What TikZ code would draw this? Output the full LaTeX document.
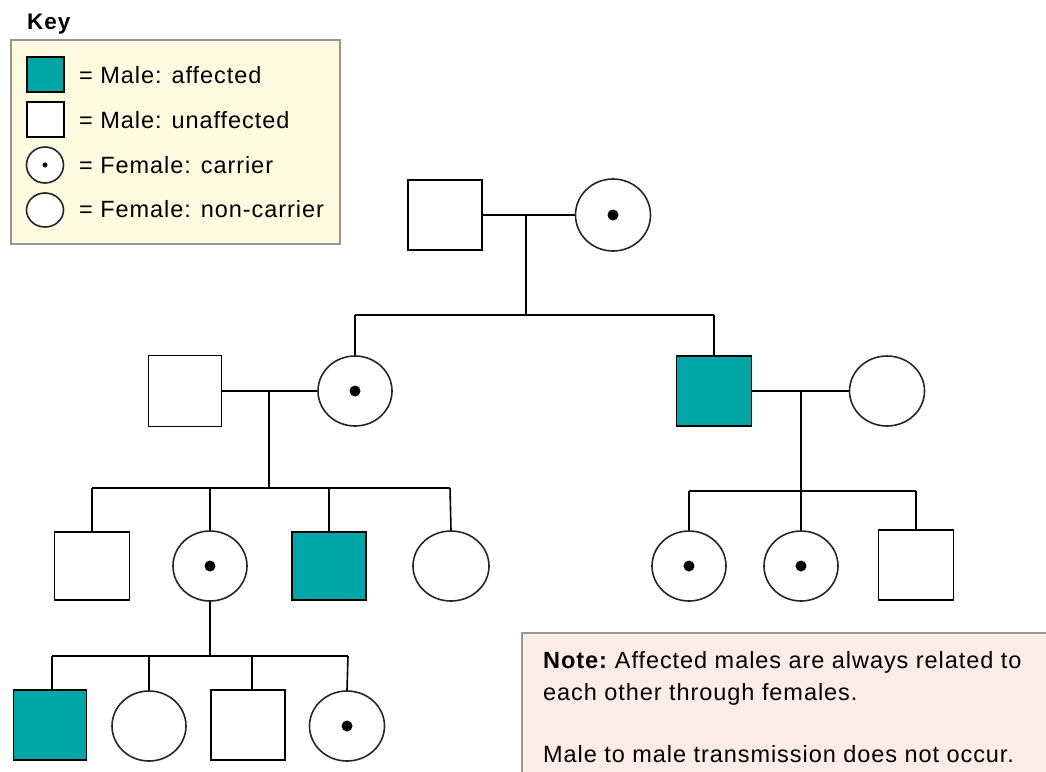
\documentclass[tikz,border=0pt]{standalone}
\usepackage{fontspec}
\setmainfont{Liberation Sans}[LetterSpace=4]
\usetikzlibrary{shapes.geometric}
\definecolor{tealA}{RGB}{0,165,165}
\definecolor{keybg}{RGB}{252,250,223}
\definecolor{notebg}{RGB}{251,236,232}
\definecolor{boxline}{RGB}{150,150,150}
\begin{document}
\begin{tikzpicture}[x=1pt,y=-1pt,
  male/.style={rectangle,draw=black,line width=1.6pt,fill=white,minimum width=74pt,minimum height=70pt,inner sep=0pt},
  affected/.style={male,fill=tealA},
  female/.style={ellipse,draw=black!85,line width=1.6pt,fill=white,minimum width=74pt,minimum height=70pt,inner sep=0pt},
  carrier/.style={female,path picture={\fill[black] (path picture bounding box.center) circle (5.5pt);}},
  conn/.style={draw=black,line width=1.6pt},
  txt/.style={anchor=base west,inner sep=0pt,font=\fontsize{23.5}{28}\selectfont},
  boxframe/.style={draw=boxline,line width=1.2pt}]
\useasboundingbox (0,0) rectangle (1046,771);
\fill[white] (0,0) rectangle (1046,771);
% Key
\node[anchor=base west,inner sep=0pt,font=\fontsize{22.5}{24}\selectfont\bfseries] (keytitle) at (27,29) {Key};
\draw[boxframe,fill=keybg] (11,40) rectangle (340,244);
\node[affected,minimum width=37pt,minimum height=35pt] (k1) at (45.5,74.5) {};
\node[male,minimum width=37pt,minimum height=35pt] (k2) at (45.5,119.5) {};
\node[carrier,minimum width=37pt,minimum height=36pt,path picture={\fill[black] (path picture bounding box.center) circle (2.5pt);}] (k3) at (45,165) {};
\node[female,minimum width=37pt,minimum height=34pt] (k4) at (45,210) {};
\node[txt] (t1) at (79,83) {= Male: affected};
\node[txt] (t2) at (79,128) {= Male: unaffected};
\node[txt] (t3) at (79,173) {= Female: carrier};
\node[txt] (t4) at (79,217) {= Female: non-carrier};
% Generation I
\node[male] (m1) at (445,215) {};
\node[carrier,minimum width=75pt,minimum height=72pt] (f1) at (613,215) {};
\coordinate (j1) at (526,215);
\coordinate (s1) at (526,315);
\coordinate (s1l) at (355,315);
\coordinate (s1r) at (714,315);
\draw[conn] (m1.east) -- (f1.west);
\draw[conn] (j1) -- (s1);
\draw[conn] (s1l) -- (s1r);
% Generation II
\node[male,minimum width=73pt,minimum height=71pt] (m2) at (185,391) {};
\node[carrier] (f2) at (355,391) {};
\node[affected,minimum width=75pt] (m3) at (714,391) {};
\node[female,minimum width=75pt] (f3) at (887,391) {};
\draw[conn] (s1l) -- (f2.north);
\draw[conn] (s1r) -- (m3.north);
\coordinate (j2) at (269,391);
\coordinate (s2) at (269,488);
\coordinate (s2l) at (92,488);
\coordinate (s2r) at (450,488);
\draw[conn] (m2.east) -- (f2.west);
\draw[conn] (j2) -- (s2);
\draw[conn] (s2l) -- (s2r);
\coordinate (j3) at (801,391);
\coordinate (s3) at (801,491);
\coordinate (s3l) at (689,491);
\coordinate (s3r) at (916,491);
\draw[conn] (m3.east) -- (f3.west);
\draw[conn] (j3) -- (s3);
\draw[conn] (s3l) -- (s3r);
% Generation III
\node[male,minimum width=75pt,minimum height=68pt] (m4) at (92,566) {};
\node[carrier] (f4) at (210,566) {};
\node[affected,minimum height=68pt] (m5) at (329,566) {};
\node[female,minimum width=76pt] (f5) at (451,566) {};
\node[carrier] (f6) at (689,566) {};
\node[carrier] (f7) at (801,566) {};
\node[male,minimum width=75pt] (m6) at (916,565) {};
\draw[conn] (s2l) -- (m4.north);
\draw[conn] (s2l -| f4.north) -- (f4.north);
\draw[conn] (s2l -| m5.north) -- (m5.north);
\draw[conn] (s2r) -- (f5.north);
\draw[conn] (s3l) -- (f6.north);
\draw[conn] (s3) -- (f7.north);
\draw[conn] (s3r) -- (m6.north);
% Generation IV
\coordinate (s4) at (210,656);
\coordinate (s4l) at (52,656);
\coordinate (s4r) at (348,656);
\coordinate (s4m) at (252,656);
\draw[conn] (f4.south) -- (s4);
\draw[conn] (s4l) -- (s4r);
\node[affected,minimum width=73pt] (m7) at (50,725) {};
\node[female] (f8) at (149,726) {};
\node[male] (m8) at (248,725) {};
\node[carrier,minimum width=75pt] (f9) at (347,726) {};
\draw[conn] (s4l) -- (s4l |- m7.north);
\draw[conn] (s4l -| f8.north) -- (f8.north);
\draw[conn] (s4m) -- (s4m |- m8.north);
\draw[conn] (s4r) -- (f9.north);
% Note
\draw[boxframe,fill=notebg] (522,633) rectangle (1060,785);
\node[txt] (n1) at (543,668) {\textbf{Note:}\hspace{-3pt} Affected males are always related to};
\node[txt] (n2) at (543,700) {each other through females.};
\node[txt] (n3) at (543,762) {Male to male transmission does not occur.};
\end{tikzpicture}
\end{document}
